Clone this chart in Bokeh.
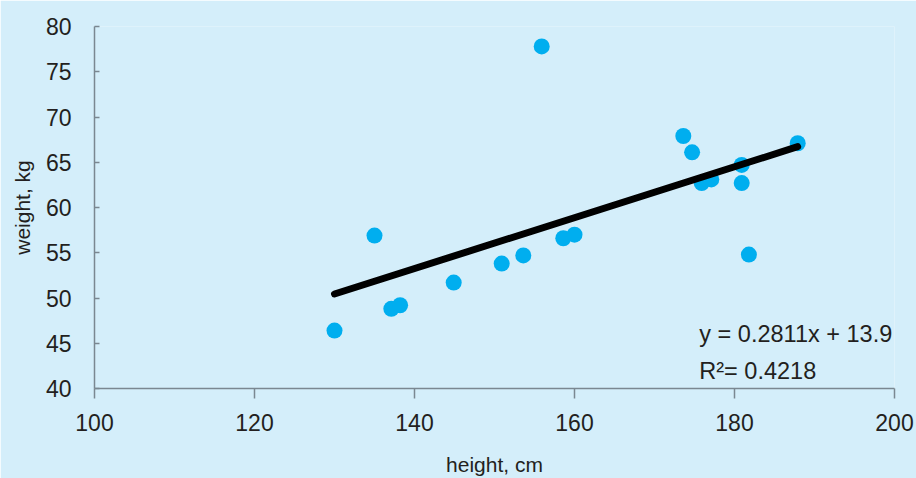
from bokeh.plotting import figure
from bokeh.models import Range1d, FixedTicker, Label
from bokeh.embed import file_html
from bokeh.resources import INLINE

heights = [130.0, 135.0, 137.1, 138.2, 144.9, 150.9, 153.6, 155.9, 158.6, 160.0,
           173.6, 174.7, 175.9, 177.1, 180.9, 180.9, 181.8, 187.9]
weights = [46.4, 56.9, 48.8, 49.2, 51.7, 53.8, 54.7, 77.8, 56.6, 57.0,
           67.9, 66.1, 62.7, 63.1, 64.7, 62.7, 54.8, 67.1]
slope = 0.2811
intercept = 13.9
r_squared = 0.4218
x_ticks = [100, 120, 140, 160, 180, 200]
y_ticks = [40, 45, 50, 55, 60, 65, 70, 75, 80]

BG = "#d4eefa"
TXT = "#231f20"
AX = "#7a8791"
FONT = "Liberation Sans"

p = figure(width=916, height=478, output_backend="svg", toolbar_location=None,
           x_range=Range1d(100, 200), y_range=Range1d(40, 80),
           background_fill_color=BG, border_fill_color=BG,
           min_border_left=94, min_border_right=22, min_border_top=26, min_border_bottom=87)
p.outline_line_color = None
p.grid.grid_line_color = None

p.xaxis.ticker = FixedTicker(ticks=x_ticks)
p.yaxis.ticker = FixedTicker(ticks=y_ticks)
for ax in (p.xaxis, p.yaxis):
    ax.axis_line_color = AX
    ax.axis_line_width = 1.5
    ax.major_tick_line_color = AX
    ax.major_tick_line_width = 1.5
    ax.minor_tick_line_color = None
    ax.major_label_text_font = FONT
    ax.major_label_text_font_size = "23px"
    ax.major_label_text_color = TXT
    ax.axis_label_text_font = FONT
    ax.axis_label_text_font_size = "21px"
    ax.axis_label_text_font_style = "normal"
    ax.axis_label_text_color = TXT

p.xaxis.axis_label = "height, cm"
p.yaxis.axis_label = "weight, kg"
p.xaxis.major_tick_out = 10
p.xaxis.major_tick_in = 0
p.yaxis.major_tick_out = 0
p.yaxis.major_tick_in = 5
p.xaxis.major_label_standoff = 15
p.yaxis.major_label_standoff = 23
p.xaxis.axis_label_standoff = 19
p.yaxis.axis_label_standoff = 9

p.scatter(heights, weights, size=16, fill_color="#00aeef", line_color=None)

x0, x1 = min(heights), max(heights)
p.line([x0, x1], [slope * x0 + intercept, slope * x1 + intercept],
       line_color="black", line_width=7, line_cap="round")

p.add_layout(Label(x=175.6, y=46.0, text=f"y = {slope}x + {intercept}",
                   text_font=FONT, text_font_size="23.5px", text_color=TXT,
                   text_baseline="middle"))
p.add_layout(Label(x=175.6, y=41.9, text=f"R²= {r_squared}",
                   text_font=FONT, text_font_size="23.5px", text_color=TXT,
                   text_baseline="middle"))

open("out.html", "w").write(file_html(p, INLINE))
